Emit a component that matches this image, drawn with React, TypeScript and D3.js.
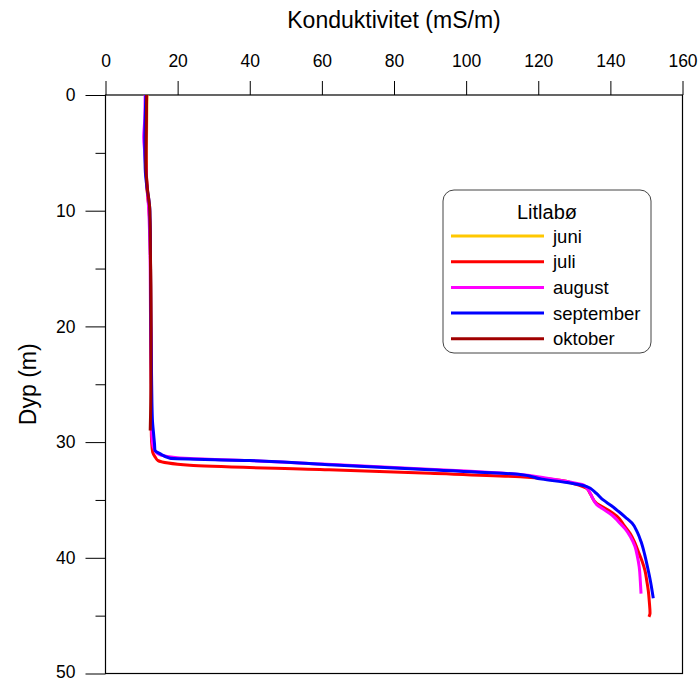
import { useEffect } from 'react'
import * as d3 from 'd3'

const width = 699
const height = 681
const margin = { top: 95, right: 16.5, bottom: 7.5, left: 105.5 }

const xTicks = [0, 20, 40, 60, 80, 100, 120, 140, 160]
const yMajorTicks = [0, 10, 20, 30, 40, 50]
const yMinorTicks = [5, 15, 25, 35, 45]

const months = ['juni', 'juli', 'august', 'september', 'oktober']
const colors = ['#ffc800', '#ff0000', '#ff00ff', '#0000ff', '#a00000']

// depth (m) / conductivity (mS/m) pairs
const juniDepth = [0, 3, 6, 8, 10, 15, 20, 25, 30]
const juniCond = [11.5, 11.4, 11.3, 11.5, 12.1, 12.5, 12.6, 12.7, 12.8]

const juliDepth = [0, 2, 4, 6, 8, 10, 12, 15, 20, 25, 29, 30, 30.9, 31.3, 31.6, 32.0, 32.4, 32.7, 33.0, 33.3, 33.6, 34.0, 34.5, 35.3, 35.8, 36.4, 37.2, 37.9, 38.7, 39.5, 40.3, 41.1, 42.0, 42.8, 43.8, 44.8, 45.1]
const juliCond = [11.4, 11.3, 11.2, 11.3, 11.5, 12.1, 12.4, 12.5, 12.6, 12.7, 12.7, 12.8, 13.1, 13.8, 14.6, 23.4, 62, 90, 115, 126, 130, 133.4, 134.5, 136.2, 139, 141.8, 143.8, 145.5, 146.8, 147.8, 148.8, 149.6, 150.1, 150.5, 150.8, 151, 150.7]

const augustDepth = [0, 2, 3.7, 5, 7, 10, 15, 20, 25, 29, 30.0, 30.6, 31.0, 31.2, 31.4, 31.6, 31.9, 32.2, 32.5, 32.8, 33.1, 33.4, 33.7, 34.2, 34.8, 35.4, 35.9, 36.3, 36.9, 37.5, 38.2, 39.0, 39.9, 40.8, 42.0, 43.1]
const augustCond = [11.0, 10.9, 10.6, 10.9, 11.3, 12.0, 12.4, 12.5, 12.7, 12.8, 13.0, 13.5, 14.5, 16.5, 22, 40, 60, 80, 100, 115, 122, 128, 132.5, 134, 135, 136.2, 138.5, 140.4, 142.3, 144.1, 145.6, 146.8, 147.5, 148, 148.3, 148.5]

const septemberDepth = [0, 2, 4, 6.3, 8, 9, 10, 15, 20, 25, 28, 29.5, 30.2, 30.7, 31.0, 31.4, 31.6, 32.0, 32.4, 32.8, 33.2, 33.5, 33.85, 34.4, 35.0, 35.5, 36.0, 36.5, 37.0, 37.8, 38.6, 39.7, 40.8, 42.0, 43.5]
const septemberCond = [11.2, 11.0, 10.9, 11.0, 11.5, 12.0, 12.3, 12.5, 12.6, 12.8, 13.0, 13.4, 13.6, 13.7, 15.1, 17.9, 40, 65, 90, 115, 121, 128, 133.5, 136.0, 138.0, 140.3, 142.3, 144.2, 146.0, 147.5, 148.5, 149.5, 150.3, 151.1, 151.9]

const oktoberDepth = [0, 3, 6, 8, 10, 15, 20, 25, 29]
const oktoberCond = [11.4, 11.3, 11.2, 11.6, 12.3, 12.5, 12.6, 12.6, 12.4]

const depths = [juniDepth, juliDepth, augustDepth, septemberDepth, oktoberDepth]
const conds = [juniCond, juliCond, augustCond, septemberCond, oktoberCond]

const FONT = 'Liberation Sans, Arial, sans-serif'

function App() {
  useEffect(() => {
    drawChart()
  }, [])

  const drawChart = () => {
    d3.select('#konduktivitet').selectAll('*').remove()
    const svg = d3
      .select('#konduktivitet')
      .append('svg')
      .attr('width', width)
      .attr('height', height)
      .style('display', 'block')
      .style('font-family', FONT)

    const xScale = d3
      .scaleLinear()
      .domain([0, 160])
      .range([margin.left, width - margin.right])
    const yScale = d3
      .scaleLinear()
      .domain([0, 50])
      .range([margin.top, height - margin.bottom])

    // frame
    svg
      .append('rect')
      .attr('x', xScale(0))
      .attr('y', yScale(0))
      .attr('width', xScale(160) - xScale(0))
      .attr('height', yScale(50) - yScale(0))
      .attr('fill', 'none')
      .attr('stroke', '#000')
      .attr('stroke-width', 1.2)

    // top axis
    const xAxis = svg
      .append('g')
      .attr('transform', `translate(0,${yScale(0)})`)
      .call(d3.axisTop(xScale).tickValues(xTicks).tickSize(14).tickPadding(14))
    xAxis.select('.domain').remove()
    xAxis.selectAll('text').attr('font-size', 17.5).attr('font-family', FONT).attr('fill', '#000')

    // left axis
    const yAxis = svg
      .append('g')
      .attr('transform', `translate(${xScale(0)},0)`)
      .call(d3.axisLeft(yScale).tickValues(yMajorTicks).tickSize(20).tickPadding(10))
    yAxis.select('.domain').remove()
    yAxis.selectAll('text').attr('font-size', 17.5).attr('font-family', FONT).attr('fill', '#000')
    yAxis.selectAll('.tick').filter((d: any) => d === 50).select('text').attr('dy', '0.22em')
    const yMinor = svg
      .append('g')
      .attr('transform', `translate(${xScale(0)},0)`)
      .call(d3.axisLeft(yScale).tickValues(yMinorTicks).tickSize(10).tickFormat('' as any))
    yMinor.select('.domain').remove()

    // lines
    const line = d3
      .line<[number, number]>()
      .x((d) => xScale(d[1]))
      .y((d) => yScale(d[0]))
      .curve(d3.curveMonotoneY)

    months.forEach((m, i) => {
      const pts: [number, number][] = depths[i].map((dep, j) => [dep, conds[i][j]])
      svg
        .append('path')
        .datum(pts)
        .attr('fill', 'none')
        .attr('stroke', colors[i])
        .attr('stroke-width', 3)
        .attr('stroke-linejoin', 'round')
        .attr('d', line)
    })

    // axis titles
    svg
      .append('text')
      .attr('x', (xScale(0) + xScale(160)) / 2)
      .attr('y', 28)
      .attr('text-anchor', 'middle')
      .attr('font-size', 23)
      .text('Konduktivitet (mS/m)')
    svg
      .append('text')
      .attr('transform', `translate(36,${(yScale(0) + yScale(50)) / 2}) rotate(-90)`)
      .attr('text-anchor', 'middle')
      .attr('font-size', 23)
      .text('Dyp (m)')

    // legend
    const legend = svg.append('g').attr('transform', 'translate(443,190)')
    legend
      .append('rect')
      .attr('width', 208)
      .attr('height', 163)
      .attr('rx', 11)
      .attr('fill', '#fff')
      .attr('stroke', '#444')
      .attr('stroke-width', 1)
    legend
      .append('text')
      .attr('x', 104)
      .attr('y', 28.5)
      .attr('text-anchor', 'middle')
      .attr('font-size', 20)
      .text('Litlabø')
    months.forEach((m, i) => {
      const ly = 46 + i * 25.7
      legend
        .append('line')
        .attr('x1', 8)
        .attr('x2', 101)
        .attr('y1', ly)
        .attr('y2', ly)
        .attr('stroke', colors[i])
        .attr('stroke-width', 3)
      legend
        .append('text')
        .attr('x', 110)
        .attr('y', ly + 6.5)
        .attr('font-size', 18.5)
        .text(m)
    })
  }

  return (
    <div
      id="konduktivitet"
      style={{ position: 'absolute', left: 0, top: 0, width: width, height: height }}
    />
  )
}

export default App
